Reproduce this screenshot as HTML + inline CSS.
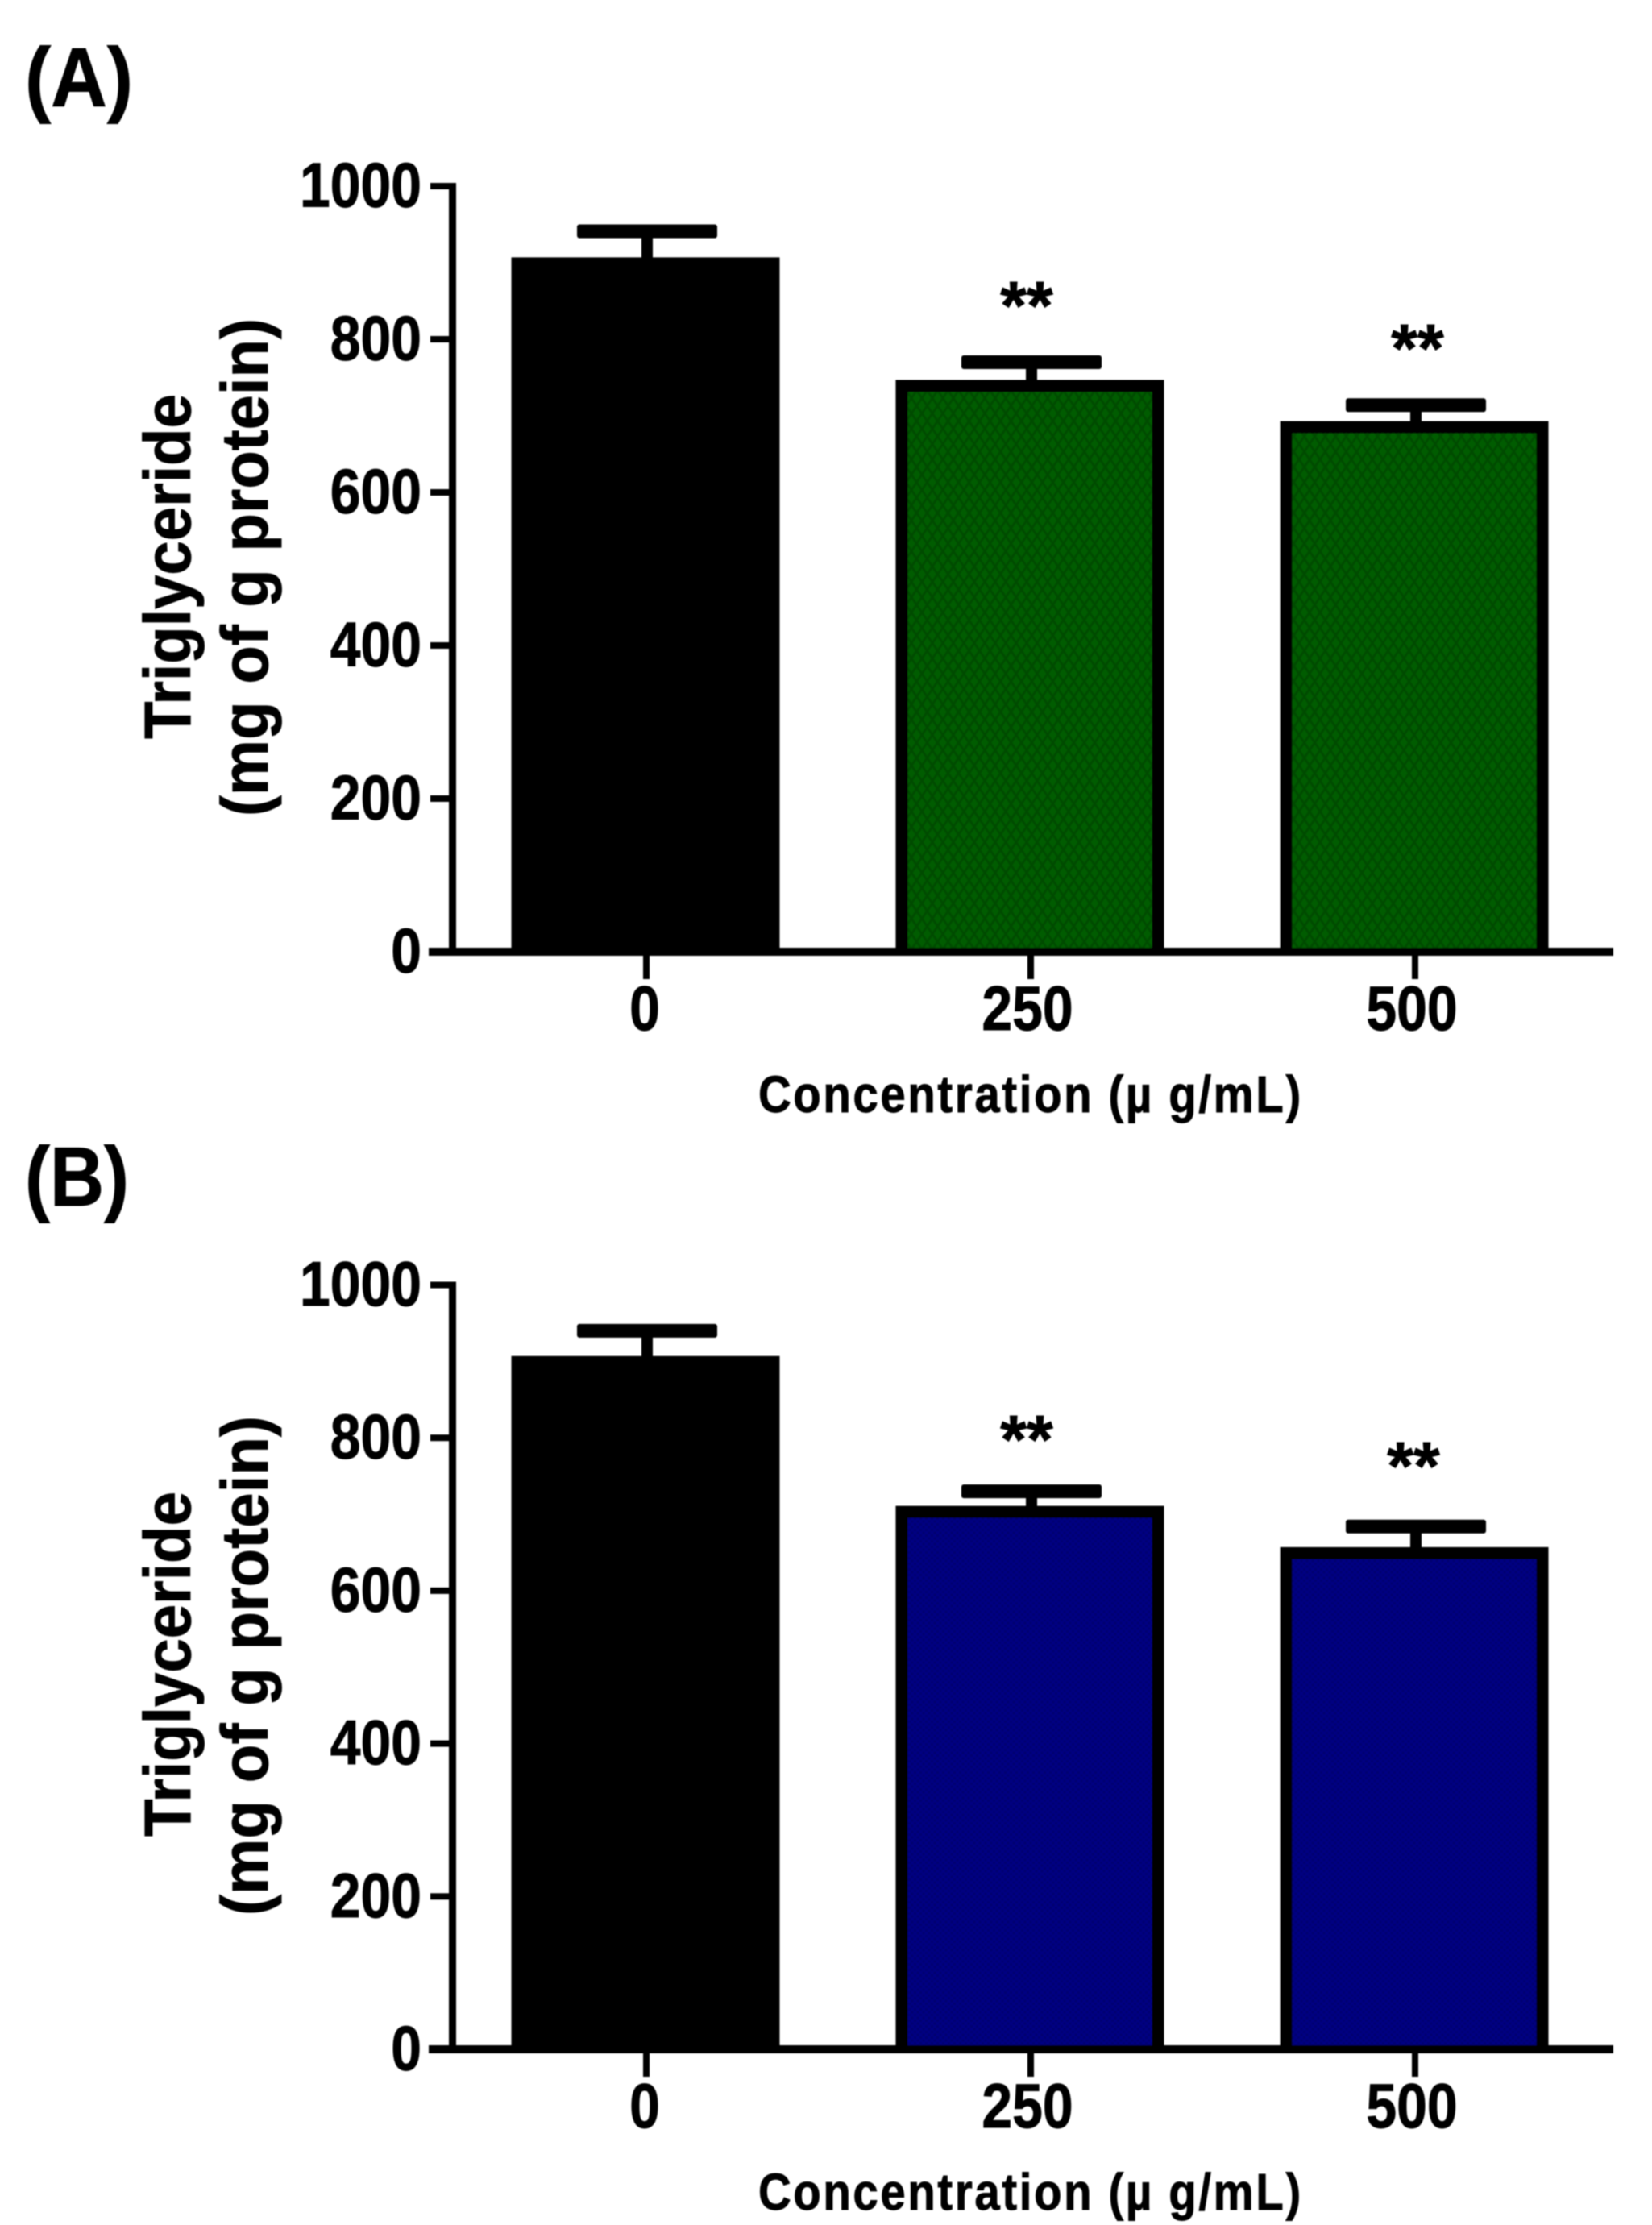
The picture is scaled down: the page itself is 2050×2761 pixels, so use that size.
<!DOCTYPE html>
<html lang="en">
<head>
<meta charset="utf-8">
<title>Triglyceride concentration bar charts</title>
<style>
html,body{margin:0;padding:0;background:#fff;width:2050px;height:2761px;overflow:hidden}
svg{display:block;font-family:"Liberation Sans",sans-serif;font-weight:bold;fill:#000}
text{stroke:#000;stroke-width:0.9px}
</style>
</head>
<body>
<svg id="fig" xmlns="http://www.w3.org/2000/svg" width="2050" height="2761" viewBox="0 0 2050 2761">
  <defs>
    <filter id="soft" x="-2%" y="-2%" width="104%" height="104%"><feGaussianBlur stdDeviation="0.9"/></filter>
    <pattern id="greenHatch" patternUnits="userSpaceOnUse" width="26" height="19">
      <rect width="26" height="19" fill="#005c00"/>
      <path d="M0 0L13 19M13 0L0 19M13 0L26 19M26 0L13 19" stroke="#004c00" stroke-width="3" fill="none"/>
    </pattern>
    <pattern id="blueHatch" patternUnits="userSpaceOnUse" width="7" height="7">
      <rect width="7" height="7" fill="#000082"/>
      <rect x="0" y="0" width="3" height="3" fill="#000070"/>
      <rect x="3.5" y="3.5" width="3" height="3" fill="#000070"/>
    </pattern>
  </defs>
  <rect width="2050" height="2761" fill="#fff"/>
  <g id="root" filter="url(#soft)">
    <text x="31" y="132" font-size="104" textLength="134" lengthAdjust="spacingAndGlyphs">(A)</text>
    <text x="31" y="1496" font-size="104" textLength="129" lengthAdjust="spacingAndGlyphs">(B)</text>

    <text transform="translate(236,703) rotate(-90)" text-anchor="middle" font-size="82" textLength="428" lengthAdjust="spacingAndGlyphs">Triglyceride</text>
    <text transform="translate(332,704) rotate(-90)" text-anchor="middle" font-size="82" textLength="618" lengthAdjust="spacingAndGlyphs">(mg of g protein)</text>
    <text transform="translate(941,1380) scale(0.88,1)" font-size="64" textLength="765" lengthAdjust="spacing">Concentration (µ g/mL)</text>

    <text transform="translate(236,2065) rotate(-90)" text-anchor="middle" font-size="82" textLength="428" lengthAdjust="spacingAndGlyphs">Triglyceride</text>
    <text transform="translate(332,2067) rotate(-90)" text-anchor="middle" font-size="82" textLength="620" lengthAdjust="spacingAndGlyphs">(mg of g protein)</text>
    <text transform="translate(941,2742) scale(0.88,1)" font-size="64" textLength="765" lengthAdjust="spacing">Concentration (µ g/mL)</text>
  </g>
</svg>
<script>
const concentrations = ['0', '250', '500'];
const yTickValues = [0, 200, 400, 600, 800, 1000];
const valuesA = [907, 747, 693];
const errorsA = [34, 23, 21];
const starsA = [null, 859, 803];
const valuesB = [907, 711, 657];
const errorsB = [33, 19, 27];
const starsB = [null, 813, 778];

const NS = 'http://www.w3.org/2000/svg';
const root = document.getElementById('root');

function shape(tag, attrs, parent) {
  const node = document.createElementNS(NS, tag);
  for (const key in attrs) node.setAttribute(key, attrs[key]);
  parent.appendChild(node);
  return node;
}

function drawPanel(id, values, errors, stars, fillUrl, yTop, yZero, lastStarShift) {
  const yScale = v => yZero - (v / 1000) * (yZero - yTop);
  const xScale = i => 801 + 477 * i;
  const barWidth = 333;
  const border = 15;

  const panel = shape('g', {}, root);
  
  

  values.forEach((value, i) => {
    const cx = xScale(i);
    const top = yScale(value);
    const capY = yScale(value + errors[i]);

    const stem = shape('rect', {x: cx + 2 - 7, y: capY, width: 14, height: top - capY + 4, fill: '#000'}, panel);
    
    

    const cap = shape('rect', {x: cx + 2 - 87, y: capY - 8.5, width: 174, height: 17, rx: 3, fill: '#000'}, panel);
    
    

    const left = cx - barWidth / 2 + border / 2;
    const right = cx + barWidth / 2 - border / 2;
    const bar = shape('path', {
      d: 'M' + left + ' ' + yZero + 'V' + (top + border / 2) + 'H' + right + 'V' + yZero + 'Z',
      fill: i === 0 ? '#000' : fillUrl
    }, panel);
    
    

    const outline = shape('path', {
      d: 'M' + left + ' ' + yZero + 'V' + (top + border / 2) + 'H' + right + 'V' + yZero,
      fill: 'none',
      stroke: '#000',
      'stroke-width': border
    }, panel);
    
    

    if (stars[i] !== null) {
      const shift = i === 2 ? lastStarShift : -4;
      const star = shape('text', {x: cx + shift, y: yScale(stars[i]) + 43, 'font-size': 84, 'text-anchor': 'middle'}, panel);
      star.textContent = '**';
      
      
    }

    const tick = shape('rect', {x: cx + 1 - 4, y: yZero, width: 8, height: 34, fill: '#000'}, panel);
    
    

    const label = shape('text', {
      transform: 'translate(' + (cx - 1 - (i > 0 ? 2 : 0)) + ',' + (yZero + 97) + ') scale(0.87,1)',
      'font-size': 78,
      'text-anchor': 'middle'
    }, panel);
    label.textContent = concentrations[i];
    
    
  });

  const yAxis = shape('rect', {x: 557, y: yScale(1000) - 4, width: 9, height: yZero - yScale(1000) + 9, fill: '#000'}, panel);
  
  

  const xAxis = shape('rect', {x: 532, y: yZero - 5, width: 1470, height: 10, fill: '#000'}, panel);
  
  

  yTickValues.forEach(value => {
    const y = yScale(value);
    const tick = shape('rect', {x: 534, y: y - 4, width: 28, height: 8, fill: '#000'}, panel);
    
    

    const label = shape('text', {
      transform: 'translate(523,' + (y + 25.5) + ') scale(0.87,1)',
      'font-size': 78,
      'text-anchor': 'end'
    }, panel);
    label.textContent = String(value);
    
    
  });
}

drawPanel('a', valuesA, errorsA, starsA, 'url(#greenHatch)', 231, 1181, 4);
drawPanel('b', valuesB, errorsB, starsB, 'url(#blueHatch)', 1594.5, 2543, -1);
</script>
</body>
</html>
